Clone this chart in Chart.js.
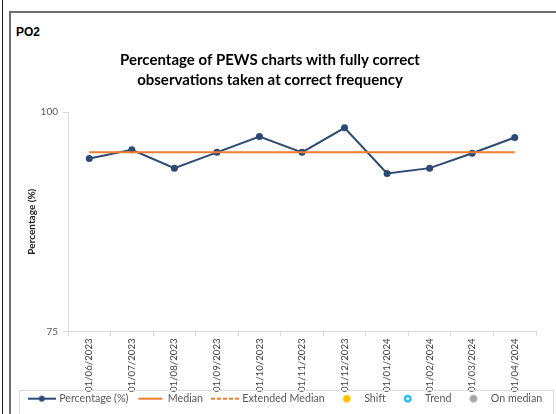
<!DOCTYPE html>
<html>
<head>
<meta charset="utf-8">
<script src="https://cdn.jsdelivr.net/npm/chart.js@4"></script>
<style>
  html, body { margin: 0; padding: 0; background: #ffffff; overflow: hidden; }
  #wrap { position: relative; width: 556px; height: 414px; }
  #lineL { position: absolute; left: 2px; top: 0; width: 1px; height: 414px; background: #1a1a1a; }
  #frame { position: absolute; left: 9px; top: 11px; width: 560px; height: 420px;
           border-left: 2px solid #6e6e6e; border-top: 2px solid #6e6e6e; box-sizing: border-box; }
  #po2 { position: absolute; left: 16px; top: 25px; font: bold 12px "Liberation Sans", Arial, sans-serif; color: #000; }
  canvas { position: absolute; left: 0; top: 0; }
</style>
</head>
<body>
<div id="wrap">
  <div id="lineL"></div>
  <div id="frame"></div>
  <div id="po2">PO2</div>
  <canvas id="c" width="556" height="414"></canvas>
</div>
<script>
// ---- data ----
const categories = ['01/06/2023', '01/07/2023', '01/08/2023', '01/09/2023', '01/10/2023', '01/11/2023',
                    '01/12/2023', '01/01/2024', '01/02/2024', '01/03/2024', '01/04/2024'];
const percentage = [94.7, 95.7, 93.6, 95.4, 97.2, 95.4, 98.2, 93.0, 93.6, 95.3, 97.1];
const medianValues = [95.4, 95.4, 95.4, 95.4, 95.4, 95.4, 95.4, 95.4, 95.4, 95.4, 95.4];
const yTicks = [75, 100];
const legendNames = ['Percentage (%)', 'Median', 'Extended Median', 'Shift', 'Trend', 'On median'];
const titleLines = ['Percentage of PEWS charts with fully correct', 'observations taken at correct frequency'];

// ---- styles ----
const BLUE = '#2c4a74', ORANGE = '#ed7d31', YELLOW = '#ffc000', CYAN = '#00b0f0', GREY = '#a5a5a5';
const FONT = 'Lato, "Open Sans", sans-serif';

function swatch(draw) {
  const c = document.createElement('canvas');
  c.width = 28; c.height = 12;
  const x = c.getContext('2d');
  draw(x);
  return c;
}
const swatches = [
  swatch(x => { x.strokeStyle = BLUE; x.lineWidth = 2; x.beginPath(); x.moveTo(0, 6); x.lineTo(28, 6); x.stroke();
                x.fillStyle = BLUE; x.beginPath(); x.arc(14, 6, 3, 0, Math.PI * 2); x.fill(); }),
  swatch(x => { x.strokeStyle = ORANGE; x.lineWidth = 2; x.beginPath(); x.moveTo(2, 6); x.lineTo(26, 6); x.stroke(); }),
  swatch(x => { x.strokeStyle = ORANGE; x.lineWidth = 2; x.setLineDash([4, 2]); x.beginPath(); x.moveTo(0, 6); x.lineTo(28, 6); x.stroke(); }),
  swatch(x => { x.fillStyle = YELLOW; x.beginPath(); x.arc(14, 6, 3.8, 0, Math.PI * 2); x.fill(); }),
  swatch(x => { x.strokeStyle = CYAN; x.lineWidth = 2; x.fillStyle = '#fff'; x.beginPath(); x.arc(14, 6, 2.8, 0, Math.PI * 2); x.fill(); x.stroke(); }),
  swatch(x => { x.fillStyle = GREY; x.beginPath(); x.arc(14, 6, 3.8, 0, Math.PI * 2); x.fill(); })
];

const nulls = categories.map(() => null);

const layoutFix = {
  id: 'layoutFix',
  afterLayout(chart) {
    const lg = chart.legend;
    if (lg) { lg.left += 8; lg.right += 8; }
    const tb = chart.titleBlock;
    if (tb) { tb.left -= 8; tb.right -= 8; }
    const xs = chart.scales.x;
    if (xs) { xs.bottom += 14; }
  },
  afterDraw(chart) {
    const ctx = chart.ctx;
    ctx.save();
    ctx.strokeStyle = '#d9d9d9';
    ctx.lineWidth = 1;
    ctx.strokeRect(19.5, 390.5, 534, 40);
    ctx.restore();
  }
};

new Chart(document.getElementById('c'), {
  type: 'line',
  data: {
    labels: categories,
    datasets: [
      { label: legendNames[0], data: percentage, borderColor: BLUE, backgroundColor: BLUE, borderWidth: 2,
        pointRadius: 3.5, pointHoverRadius: 3.5, pointBackgroundColor: BLUE, pointBorderWidth: 0, tension: 0, order: 1 },
      { label: legendNames[1], data: medianValues, borderColor: ORANGE, borderWidth: 2, pointRadius: 0, order: 0 },
      { label: legendNames[2], data: nulls, borderColor: ORANGE, borderDash: [4, 2], borderWidth: 2, pointRadius: 0 },
      { label: legendNames[3], data: nulls, borderColor: YELLOW, backgroundColor: YELLOW, showLine: false },
      { label: legendNames[4], data: nulls, borderColor: CYAN, backgroundColor: '#fff', showLine: false },
      { label: legendNames[5], data: nulls, borderColor: GREY, backgroundColor: GREY, showLine: false }
    ]
  },
  options: {
    responsive: false,
    animation: false,
    events: [],
    layout: { padding: 0 },
    plugins: {
      title: {
        display: true, text: titleLines, color: '#000',
        font: { family: FONT, size: 15, weight: 'bold', lineHeight: 20 / 15 },
        padding: { top: 50, bottom: 22 }
      },
      legend: {
        position: 'bottom',
        labels: {
          usePointStyle: true, pointStyleWidth: 24, padding: 10, color: '#595959',
          font: { family: FONT, size: 10.7 },
          generateLabels: () => legendNames.map((t, i) => ({
            text: t, pointStyle: swatches[i], fillStyle: 'transparent', strokeStyle: 'transparent',
            lineWidth: 0, hidden: false, datasetIndex: i, fontColor: '#595959'
          }))
        }
      },
      tooltip: { enabled: false }
    },
    scales: {
      x: {
        offset: true,
        grid: { offset: true, drawOnChartArea: false, tickLength: 5, color: '#d9d9d9', lineWidth: 1 },
        border: { display: true, color: '#d9d9d9' },
        ticks: { autoSkip: false, minRotation: 90, maxRotation: 90, padding: 2, color: '#404040',
                 font: { family: FONT, size: 9.7 } },
        afterFit: s => { s.height = 52; }
      },
      y: {
        min: 75, max: 100,
        afterBuildTicks: s => { s.ticks = yTicks.map(v => ({ value: v })); },
        grid: { drawOnChartArea: false, tickLength: 5, color: '#d9d9d9' },
        border: { display: true, color: '#d9d9d9' },
        ticks: { padding: 5, color: '#595959', font: { family: FONT, size: 10 } },
        title: { display: true, text: 'Percentage (%)', color: '#262626',
                 font: { family: FONT, size: 10, weight: 'bold' }, padding: { top: 26, bottom: 0 } },
        afterFit: s => { s.width = 68; }
      },
      y2: {
        position: 'right', display: true,
        grid: { display: false }, border: { display: false }, ticks: { display: false },
        afterFit: s => { s.width = 20; }
      }
    }
  },
  plugins: [layoutFix]
});
</script>
</body>
</html>
